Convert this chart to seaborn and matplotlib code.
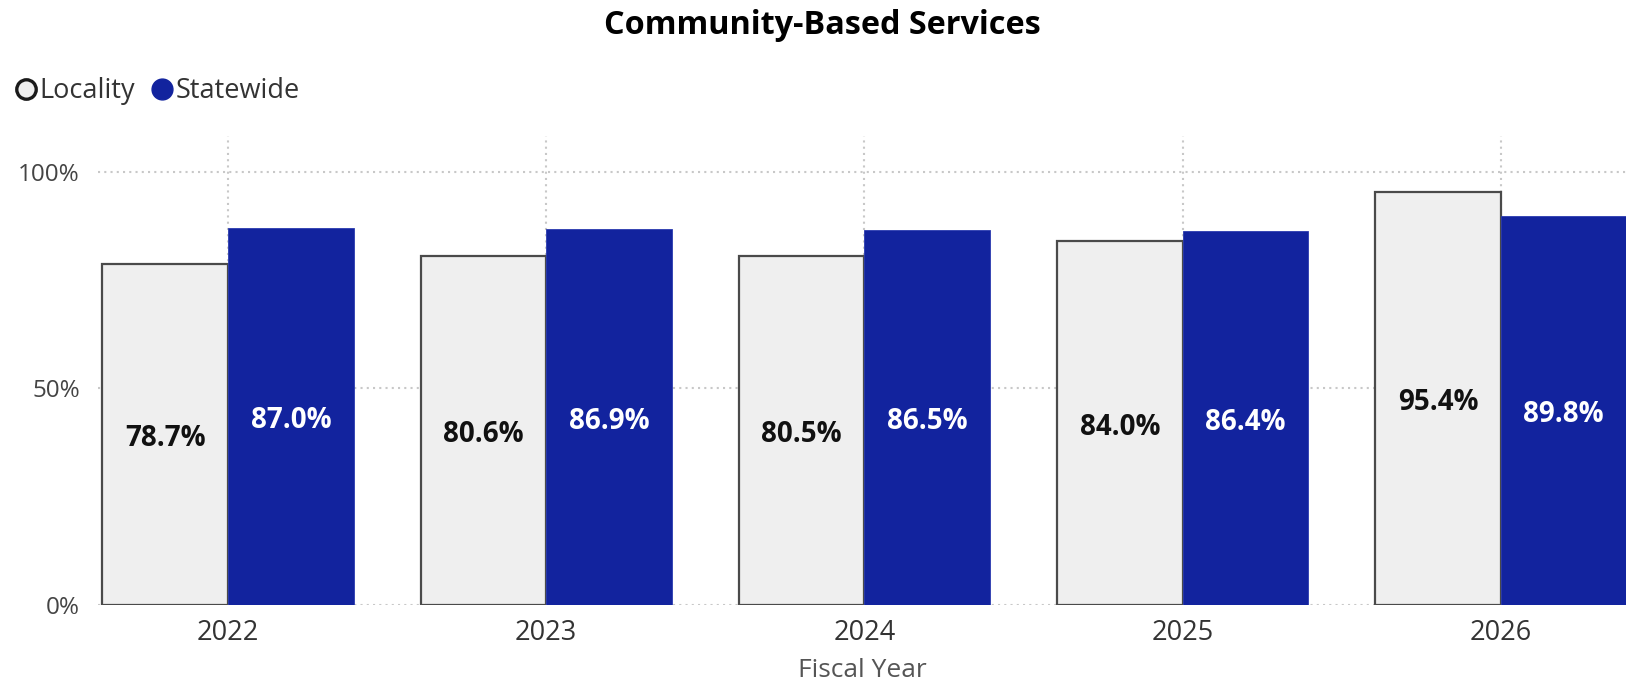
import matplotlib
matplotlib.use('Agg')
import matplotlib.pyplot as plt
import seaborn as sns
import pandas as pd
from matplotlib.lines import Line2D

years = ['2022', '2023', '2024', '2025', '2026']
locality = [78.7, 80.6, 80.5, 84.0, 95.4]
statewide = [87.0, 86.9, 86.5, 86.4, 89.8]
series = ['Locality', 'Statewide']
y_ticks = [0, 50, 100]
y_tick_labels = ['0%', '50%', '100%']
title = 'Community-Based Services'
x_label = 'Fiscal Year'

df = pd.DataFrame({
    'Fiscal Year': years * 2,
    'Value': locality + statewide,
    'Series': [series[0]] * len(years) + [series[1]] * len(years),
})

sns.set_theme(style='white')
plt.rcParams['font.family'] = ['Open Sans', 'DejaVu Sans']

W, H = 1626, 698
fig = plt.figure(figsize=(W / 100, H / 100), dpi=100)
ax = fig.add_axes([98 / W, 1 - 605 / H, 1 - 98 / W, (605 - 136) / H])

colors = {'Locality': '#EFEFEF', 'Statewide': '#12239E'}
sns.barplot(data=df, x='Fiscal Year', y='Value', hue='Series', order=years,
            hue_order=series, palette=colors, width=0.79, saturation=1,
            ax=ax, legend=False, zorder=3)

for bar in ax.containers[0]:
    bar.set_edgecolor('#4a4a4a')
    bar.set_linewidth(1.6)
for bar in ax.containers[1]:
    bar.set_edgecolor('#2a3bb0')
    bar.set_linewidth(0.6)

ax.bar_label(ax.containers[0], labels=[f'{v:.1f}%' for v in locality],
             label_type='center', padding=-3, fontsize=20, fontweight='bold',
             color='#111111', zorder=5)
ax.bar_label(ax.containers[1], labels=[f'{v:.1f}%' for v in statewide],
             label_type='center', padding=-3, fontsize=20, fontweight='bold',
             color='white', zorder=5)

ax.set_ylim(0, 108.3)
ax.set_xlim(-0.4085, 4.393)
ax.set_yticks(y_ticks, labels=y_tick_labels)
ax.tick_params(axis='y', labelsize=17.5, labelcolor='#444444', length=0, pad=13)
ax.tick_params(axis='x', labelsize=19.5, labelcolor='#333333', length=0, pad=10)
ax.set_xlabel(x_label, fontsize=19, color='#555555', labelpad=8)
ax.set_ylabel('')
for s in ax.spines.values():
    s.set_visible(False)
ax.set_axisbelow(True)
ax.grid(True, axis='both', linestyle=(0, (1, 2)), color='#C8C8C8', linewidth=1.5)

fig.text(822 / W, 1 - 25 / H, title, ha='center', va='center', fontsize=23.3,
         fontweight='bold', color='black')

handles = [
    Line2D([], [], linestyle='none', marker='o', markersize=14,
           markerfacecolor='#EFEFEF', markeredgecolor='#1a1a1a', markeredgewidth=2.4),
    Line2D([], [], linestyle='none', marker='o', markersize=15,
           markerfacecolor='#12239E', markeredgecolor='#12239E'),
]
fig.legend(handles, series, loc='center left', bbox_to_anchor=(16 / W, 1 - 91 / H),
           ncol=2, frameon=False, fontsize=19.5, handlelength=0.76,
           handletextpad=0.12, columnspacing=0.6, borderpad=0, borderaxespad=0,
           labelcolor='#333333')

fig.savefig('out.png', dpi=100)
